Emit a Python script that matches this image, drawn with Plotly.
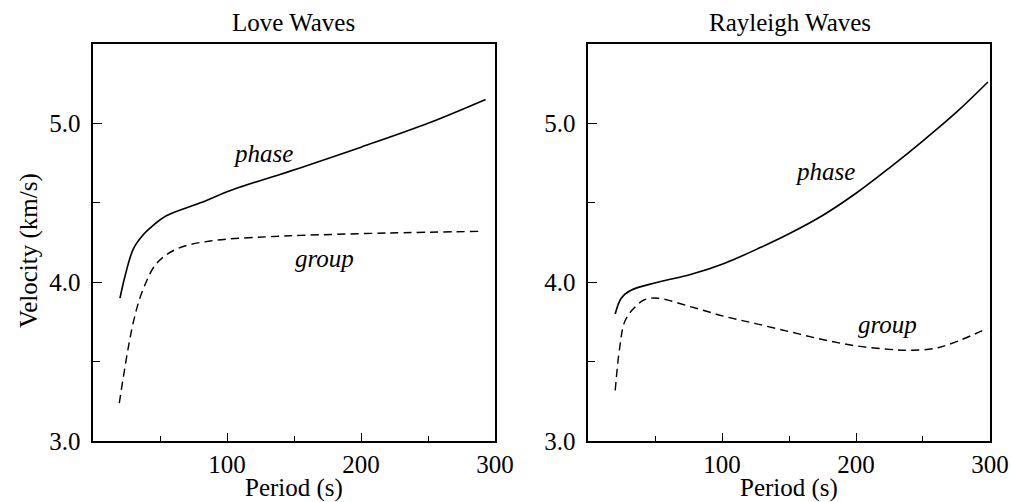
import plotly.graph_objects as go
from plotly.subplots import make_subplots

# Love waves
love_phase_T = [20, 23.8, 30, 37.5, 45, 55, 80, 105, 140, 155, 200, 250, 293]
love_phase_V = [3.90, 4.04, 4.21, 4.30, 4.36, 4.42, 4.50, 4.585, 4.68, 4.72, 4.85, 5.00, 5.15]
love_group_T = [19.5, 30, 37.5, 47.5, 62.5, 87.5, 140, 155, 220, 287.5]
love_group_V = [3.24, 3.75, 3.96, 4.12, 4.21, 4.26, 4.29, 4.295, 4.31, 4.32]

# Rayleigh waves
ray_phase_T = [20.2, 24.7, 32, 52, 77, 102, 129, 150, 175, 200, 225, 250, 275, 298.5]
ray_phase_V = [3.80, 3.90, 3.95, 4.00, 4.05, 4.12, 4.22, 4.305, 4.42, 4.56, 4.72, 4.89, 5.07, 5.26]
ray_group_T = [20.2, 23.4, 27.2, 33.4, 42, 52, 77, 102, 125, 150, 175, 200, 225, 240, 262, 298]
ray_group_V = [3.32, 3.58, 3.75, 3.83, 3.89, 3.90, 3.845, 3.785, 3.74, 3.69, 3.64, 3.60, 3.578, 3.572, 3.59, 3.71]

x_ticks = [100, 200, 300]
x_minor = [50, 150, 250]
y_ticks = [3.0, 4.0, 5.0]
y_minor = [3.5, 4.5]

FONT = "Liberation Serif, Times New Roman, serif"
RW, RH = 1011, 502          # reference picture size (layout positions are given in it)
W, H = 1032, 514            # browser viewport the page is rendered in
K = W / RW                  # pixel scale between the two
FS = 25

fig = make_subplots(rows=1, cols=2)

solid = dict(color="black", width=1.6 * K)
dashed = dict(color="black", width=1.4 * K, dash=f"{8 * K:.1f}px,{5 * K:.1f}px")

fig.add_trace(go.Scatter(x=love_phase_T, y=love_phase_V, mode="lines",
                         line=dict(**solid, shape="spline", smoothing=1.0)), row=1, col=1)
fig.add_trace(go.Scatter(x=love_group_T, y=love_group_V, mode="lines",
                         line=dict(**dashed, shape="spline", smoothing=1.0)), row=1, col=1)
fig.add_trace(go.Scatter(x=ray_phase_T, y=ray_phase_V, mode="lines",
                         line=dict(**solid, shape="spline", smoothing=1.0)), row=1, col=2)
fig.add_trace(go.Scatter(x=ray_group_T, y=ray_group_V, mode="lines",
                         line=dict(**dashed, shape="spline", smoothing=1.0)), row=1, col=2)

ydom = [1 - 443 / RH, 1 - 44 / RH]
xdom1 = [93 / RW, 494 / RW]
xdom2 = [587 / RW, 988 / RW]

axis_common = dict(showgrid=False, zeroline=False, showline=True, linecolor="black",
                   linewidth=1.5 * K, mirror=True, ticks="inside", tickcolor="black",
                   tickwidth=1.2 * K, tickfont=dict(family=FONT, size=FS, color="black"))

for i, xd in ((1, xdom1), (2, xdom2)):
    fig.update_xaxes(range=[0, 300], domain=xd, tickvals=x_ticks, ticklen=8 * K,
                     ticklabelstandoff=0,
                     minor=dict(tickvals=x_minor, ticks="inside", ticklen=5 * K,
                                tickcolor="black", tickwidth=1.2 * K),
                     **axis_common, row=1, col=i)
    fig.update_yaxes(range=[3.0, 5.5], domain=ydom, tickvals=y_ticks, tickformat=".1f",
                     ticklen=9 * K, ticklabelstandoff=6,
                     minor=dict(tickvals=y_minor, ticks="inside", ticklen=7 * K,
                                tickcolor="black", tickwidth=1.2 * K),
                     **axis_common, row=1, col=i)

def ann(text, x, y, italic=False, xref="paper", yref="paper", angle=0):
    return dict(text=f"<i>{text}</i>" if italic else text, x=x, y=y, xref=xref, yref=yref,
                showarrow=False, xanchor="center", yanchor="middle", textangle=angle,
                font=dict(family=FONT, size=FS, color="black"))

annotations = [
    ann("Love Waves", 292.5 / RW, 1 - 23 / RH),
    ann("Rayleigh Waves", 788 / RW, 1 - 23 / RH),
    ann("Period (s)", 293 / RW, 1 - 490 / RH),
    ann("Period (s)", 787 / RW, 1 - 490 / RH),
    ann("Velocity (km/s)", 29 / RW, 1 - 252 / RH, angle=-90),
    ann("phase", 126.8, 4.81, italic=True, xref="x", yref="y"),
    ann("group", 172.8, 4.15, italic=True, xref="x", yref="y"),
    ann("phase", 176.6, 4.695, italic=True, xref="x2", yref="y2"),
    ann("group", 223.3, 3.736, italic=True, xref="x2", yref="y2"),
]

fig.update_layout(width=W, height=H, margin=dict(l=0, r=0, t=0, b=0),
                  paper_bgcolor="white", plot_bgcolor="white", showlegend=False,
                  annotations=annotations, font=dict(family=FONT))

page_fix = ("document.documentElement.style.margin='0';"
            "document.documentElement.style.overflow='hidden';"
            "document.body.style.margin='0';"
            "document.body.style.overflow='hidden';")
fig.write_html("out.html", post_script=page_fix, config={"displayModeBar": False})
